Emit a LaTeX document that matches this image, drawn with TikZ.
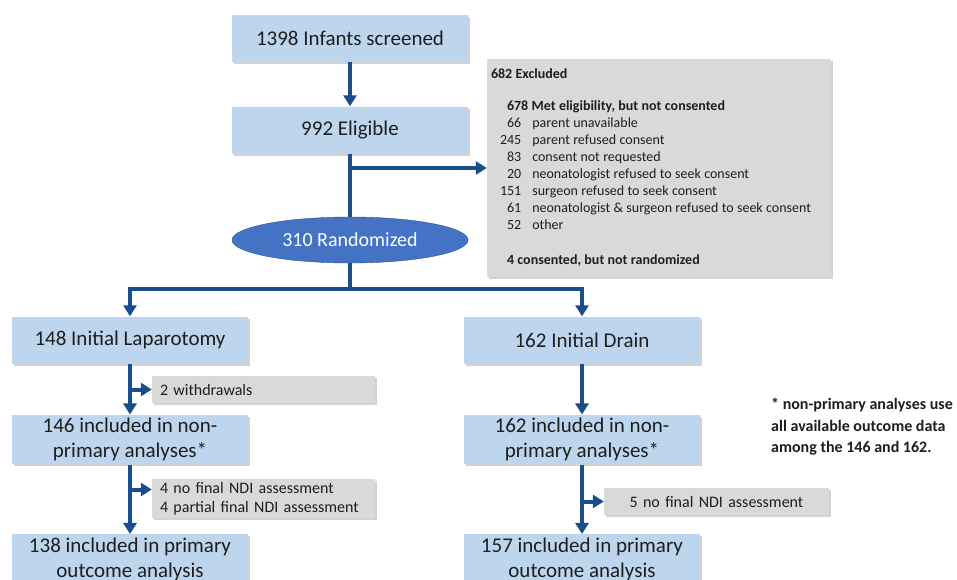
\documentclass[tikz,border=0pt]{standalone}
\usepackage{fontspec}
\setmainfont{Carlito}
\usetikzlibrary{arrows.meta,shapes.geometric,shadows}

\definecolor{boxblue}{RGB}{189,214,238}
\definecolor{flowblue}{RGB}{25,78,138}
\definecolor{randblue}{RGB}{68,114,196}
\definecolor{randedge}{RGB}{47,82,143}
\definecolor{sidegray}{RGB}{217,217,217}
\definecolor{inktext}{RGB}{30,30,30}

\tikzset{
  softshadow/.style={drop shadow={shadow xshift=2pt,shadow yshift=-2pt,fill=black!35}},
  mainbox/.style={rectangle, fill=boxblue, minimum width=236pt, minimum height=47pt,
    align=center, text=inktext, font=\fontsize{21}{25}\selectfont, softshadow},
  sidebox/.style={rectangle, fill=sidegray, inner xsep=8pt, inner ysep=3pt,
    text width=207pt, minimum height=27pt, text=inktext,
    font=\fontsize{16}{19}\selectfont, softshadow},
  flow/.style={draw=flowblue, line width=4pt, -{Triangle[width=13pt,length=11pt]}},
  trunk/.style={draw=flowblue, line width=4pt},
}

\begin{document}
\begin{tikzpicture}[x=1pt,y=-1pt]
  % Page
  \fill[white] (0,0) rectangle (957,579);
  \useasboundingbox (0,0) rectangle (957,579);

  % Enrollment
  \node[mainbox] (screen) at (350,38) {1398 Infants screened};
  \node[mainbox] (elig) at (350,130) {992 Eligible};
  \node[ellipse, fill=randblue, draw=randedge, minimum width=236pt, minimum height=46pt,
    inner sep=0pt, text=white, font=\fontsize{20}{24}\selectfont] (rand) at (350,240) {310 Randomized};

  % Exclusions
  \node[rectangle, fill=sidegray, softshadow, minimum width=344pt, minimum height=218pt,
    inner xsep=4pt, text width=336pt, align=left, text=inktext] (excl) at (659,168)
    {\fontsize{14}{17}\selectfont
     \begin{tabular}{@{}l@{}r@{\hspace{11pt}}l@{}}
       \multicolumn{3}{@{}l}{\textbf{682 Excluded}}\\[15pt]
       \multicolumn{3}{@{\hspace{16pt}}l}{\textbf{678 Met eligibility, but not consented}}\\
       \hspace*{9pt} & 66 & parent unavailable\\
       & 245 & parent refused consent\\
       & 83 & consent not requested\\
       & 20 & neonatologist refused to seek consent\\
       & 151 & surgeon refused to seek consent\\
       & 61 & neonatologist \& surgeon refused to seek consent\\
       & 52 & other\\[18pt]
       \multicolumn{3}{@{\hspace{16pt}}l}{\textbf{4 consented, but not randomized}}
     \end{tabular}};

  % Laparotomy arm
  \node[mainbox] (lap) at (130,340) {148 Initial Laparotomy};
  \node[mainbox] (nonA) at (130,439.5) {146 included in non-\\primary analyses*};
  \node[mainbox] (primA) at (130,559) {138 included in primary\\outcome analysis};
  \node[sidebox, align=left] (wd) at (263.5,389.5) {2 withdrawals};
  \node[sidebox, align=left] (nd) at (263.5,498.5) {4 no final NDI assessment\\4 partial final NDI assessment};

  % Drain arm
  \node[mainbox] (drain) at (582,340) {162 Initial Drain};
  \node[mainbox] (nonB) at (582,439.5) {162 included in non-\\primary analyses*};
  \node[mainbox] (primB) at (582,559) {157 included in primary\\outcome analysis};
  \node[sidebox, text width=209pt, align=center] (ndB) at (716.5,501.5) {5 no final NDI assessment};

  % Footnote
  \node[anchor=west, inner sep=0pt, align=left, text=inktext, font=\bfseries\fontsize{16}{21.5}\selectfont] (note) at (771,427)
    {* non-primary analyses use\\all available outcome data\\among the 146 and 162.};

  % Arrows
  \draw[flow] (screen) -- (elig);
  \draw[trunk] (elig) -- (rand);
  \draw[flow] (elig.south |- excl.west) -- (excl.west);
  \coordinate (split) at (350,289);
  \draw[trunk] (rand.south) -- (split);
  \draw[flow] (split) -| (lap.north);
  \draw[flow] (split) -| (drain.north);

  \draw[flow] (lap) -- (nonA);
  \draw[flow] (lap.south |- wd.west) -- (wd.west);
  \draw[flow] (nonA) -- (primA);
  \coordinate (ndin) at ([yshift=9pt]nd.west);
  \draw[flow] (nonA.south |- ndin) -- (ndin);

  \draw[flow] (drain) -- (nonB);
  \draw[flow] (nonB) -- (primB);
  \draw[flow] (nonB.south |- ndB.west) -- (ndB.west);
\end{tikzpicture}
\end{document}
